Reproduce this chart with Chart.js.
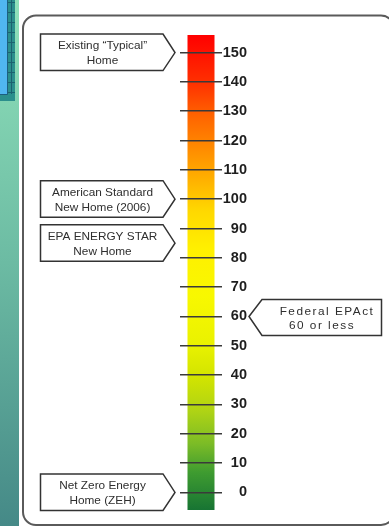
<!DOCTYPE html>
<html>
<head>
<meta charset="utf-8">
<script src="https://cdn.jsdelivr.net/npm/chart.js@4/dist/chart.umd.min.js"></script>
<style>
  html, body { margin: 0; padding: 0; background: #fff; }
  #wrap { width: 389px; height: 526px; position: relative; }
</style>
</head>
<body>
<div id="wrap"><canvas id="c" width="389" height="526"></canvas></div>
<script>
// ---- data ----
const categories = ["HERS Index"];
const barRange = [-6, 156];
const tickValues = [0, 10, 20, 30, 40, 50, 60, 70, 80, 90, 100, 110, 120, 130, 140, 150];
const tickLabels = ["0", "10", "20", "30", "40", "50", "60", "70", "80", "90", "100", "110", "120", "130", "140", "150"];
const calloutTexts = [
  ["Existing \u201CTypical\u201D", "Home"],
  ["American Standard", "New Home (2006)"],
  ["EPA ENERGY STAR", "New Home"],
  ["Federal EPAct", "60 or less"],
  ["Net Zero Energy", "Home (ZEH)"]
];
const calloutValues = [150, 100, 85, 60, 0];
const calloutSides = ["left", "left", "left", "right", "left"];

// ---- styles ----
const gradientStops = [
  [0.00, "#ff0000"],
  [0.10, "#ff3000"],
  [0.17, "#ff6400"],
  [0.24, "#ff8c00"],
  [0.31, "#ffb400"],
  [0.37, "#ffd800"],
  [0.45, "#fff000"],
  [0.55, "#f8f800"],
  [0.65, "#eaf200"],
  [0.72, "#d2e400"],
  [0.79, "#b0d414"],
  [0.86, "#7cbc26"],
  [0.92, "#3f9c30"],
  [1.00, "#177433"]
];
const FONT = '"Liberation Sans", Arial, Helvetica, sans-serif';

function barGradient(ctx) {
  const chart = ctx.chart;
  const { chartArea, scales } = chart;
  if (!chartArea) return "#ff0";
  const y = scales.y;
  const g = chart.ctx.createLinearGradient(0, y.getPixelForValue(barRange[1]), 0, y.getPixelForValue(barRange[0]));
  gradientStops.forEach(s => g.addColorStop(s[0], s[1]));
  return g;
}

const decor = {
  id: "decor",
  beforeDraw(chart) {
    const c = chart.ctx;
    const W = chart.width, H = chart.height;
    c.save();
    c.fillStyle = "#ffffff";
    c.fillRect(0, 0, W, H);
    // left teal strip
    const lg = c.createLinearGradient(0, 0, 0, H);
    lg.addColorStop(0, "#90e2bb");
    lg.addColorStop(0.5, "#6cbba3");
    lg.addColorStop(1, "#458987");
    c.fillStyle = lg;
    c.fillRect(0, 0, 19, H);
    // top-left patterned block
    c.fillStyle = "#2b8f8c";
    c.fillRect(0, 0, 15, 101);
    c.strokeStyle = "#1b6270";
    c.lineWidth = 1;
    for (let yy = 2; yy < 101; yy += 10) {
      c.beginPath(); c.moveTo(7, yy + 0.5); c.lineTo(15, yy + 0.5); c.stroke();
    }
    c.beginPath(); c.moveTo(11.5, 0); c.lineTo(11.5, 94); c.stroke();
    c.fillStyle = "#50b6f0";
    c.fillRect(0, 0, 7, 94);
    c.strokeStyle = "#1c5f80";
    c.beginPath(); c.moveTo(7.5, 0); c.lineTo(7.5, 94.5); c.lineTo(0, 94.5); c.stroke();
    // rounded frame
    c.strokeStyle = "#5a5a5a";
    c.lineWidth = 2;
    const x0 = 23, y0 = 15.5, x1 = 394, y1 = 525, r = 13;
    c.beginPath();
    c.moveTo(x0 + r, y0);
    c.lineTo(x1 - r, y0);
    c.arcTo(x1, y0, x1, y0 + r, r);
    c.lineTo(x1, y1 - r);
    c.arcTo(x1, y1, x1 - r, y1, r);
    c.lineTo(x0 + r, y1);
    c.arcTo(x0, y1, x0, y1 - r, r);
    c.lineTo(x0, y0 + r);
    c.arcTo(x0, y0, x0 + r, y0, r);
    c.closePath();
    c.stroke();
    c.restore();
  },
  afterDraw(chart) {
    const c = chart.ctx;
    const y = chart.scales.y;
    c.save();
    c.lineWidth = 1.5;
    c.strokeStyle = "#333333";
    c.fillStyle = "#333333";
    c.textAlign = "center";
    c.textBaseline = "middle";
    calloutValues.forEach((v, i) => {
      const tip = y.getPixelForValue(v);
      const lines = calloutTexts[i];
      c.beginPath();
      if (calloutSides[i] === "left") {
        const l = 40.5, r = 163;
        const top = tip - 18.5, bot = tip + 18;
        c.moveTo(l, top); c.lineTo(r, top); c.lineTo(175, tip); c.lineTo(r, bot); c.lineTo(l, bot); c.closePath();
        c.fillStyle = "#ffffff"; c.fill(); c.stroke();
        c.fillStyle = "#2e2e2e";
        c.font = "11.8px " + FONT;
        c.letterSpacing = "0px";
        c.fillText(lines[0], 102.5, tip - 6.5);
        c.fillText(lines[1], 102.5, tip + 8.5);
      } else {
        const top = tip - 17, bot = tip + 19;
        c.moveTo(249, tip); c.lineTo(262, top); c.lineTo(381.5, top); c.lineTo(381.5, bot); c.lineTo(262, bot); c.closePath();
        c.fillStyle = "#ffffff"; c.fill(); c.stroke();
        c.fillStyle = "#2e2e2e";
        c.font = "11.8px " + FONT;
        c.letterSpacing = "1.5px";
        c.fillText(lines[0], 327, tip - 4.5);
        c.fillText(lines[1], 322, tip + 9);
      }
    });
    c.restore();
  }
};

new Chart(document.getElementById("c"), {
  type: "bar",
  data: {
    labels: categories,
    datasets: [{
      data: [barRange],
      backgroundColor: barGradient,
      borderWidth: 0,
      barPercentage: 0.643,
      categoryPercentage: 1.0
    }]
  },
  options: {
    responsive: false,
    animation: false,
    events: [],
    layout: { padding: { left: 180, right: 142, top: 35, bottom: 16 } },
    plugins: { legend: { display: false }, tooltip: { enabled: false } },
    scales: {
      x: { display: false },
      y: {
        position: "right",
        min: barRange[0],
        max: barRange[1],
        z: 1,
        afterBuildTicks(scale) {
          scale.ticks = tickValues.map(v => ({ value: v }));
        },
        afterFit(scale) { scale.width = 25; },
        border: { display: false },
        grid: { color: "#3a3a3a", lineWidth: 1.5, drawTicks: false, z: 1 },
        ticks: {
          crossAlign: "far",
          padding: 2,
          color: "#1e1e1e",
          font: { family: FONT, size: 14.5, weight: "bold" },
          callback: (v) => tickLabels[tickValues.indexOf(v)]
        }
      }
    }
  },
  plugins: [decor]
});
</script>
</body>
</html>
